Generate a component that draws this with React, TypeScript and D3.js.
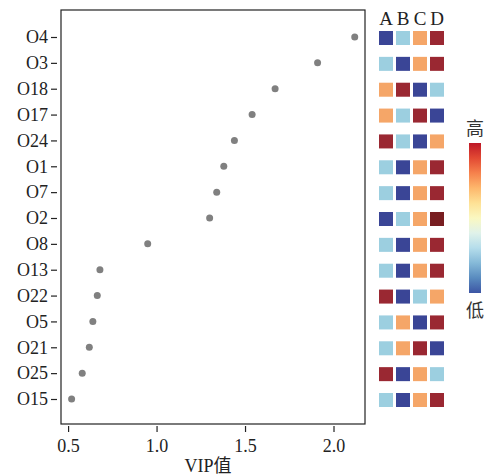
import React, { useEffect, useRef } from 'react';
import * as d3 from 'd3';

const compounds = ['O4', 'O3', 'O18', 'O17', 'O24', 'O1', 'O7', 'O2', 'O8', 'O13', 'O22', 'O5', 'O21', 'O25', 'O15'];
const vip = [2.12, 1.91, 1.67, 1.54, 1.44, 1.38, 1.34, 1.3, 0.95, 0.68, 0.665, 0.64, 0.62, 0.58, 0.52];
const groups = ['A', 'B', 'C', 'D'];
// relative level per group: 1 = lowest ... 4 = highest, 5 = extra high
const levels = [
  [1, 2, 3, 4],
  [2, 1, 3, 4],
  [3, 4, 1, 2],
  [3, 2, 4, 1],
  [4, 2, 1, 3],
  [2, 1, 3, 4],
  [2, 1, 3, 4],
  [1, 2, 3, 5],
  [2, 1, 3, 4],
  [2, 1, 3, 4],
  [4, 1, 2, 3],
  [2, 3, 1, 4],
  [2, 3, 4, 1],
  [4, 1, 3, 2],
  [2, 1, 3, 4],
];
const xTicks = [0.5, 1.0, 1.5, 2.0];

const FONT = 'Liberation Serif, Noto Sans CJK SC, serif';

const App = () => {
  const svgRef = useRef<SVGSVGElement>(null);

  useEffect(() => {
    const svg = d3.select(svgRef.current);
    svg.selectAll('*').remove();

    const margin = { top: 10, left: 61, right: 365, bottom: 424 };

    const x = d3.scaleLinear().domain([0.46, 2.178]).range([margin.left, margin.right]);
    const y = d3.scalePoint().domain(compounds).range([37, 399]);

    // frame
    svg
      .append('rect')
      .attr('x', margin.left)
      .attr('y', margin.top)
      .attr('width', margin.right - margin.left)
      .attr('height', margin.bottom - margin.top)
      .attr('fill', 'none')
      .attr('stroke', '#222')
      .attr('stroke-width', 1.2);

    // ticks sit a little off the frame
    const xAxis = svg
      .append('g')
      .attr('transform', `translate(0,${margin.bottom + 2})`)
      .call(d3.axisBottom(x).tickValues(xTicks).tickFormat(d3.format('.1f')).tickSize(6).tickSizeOuter(0));
    xAxis.select('.domain').remove();
    xAxis.selectAll('line').attr('stroke', '#222').attr('stroke-width', 1.2);
    xAxis
      .selectAll('text')
      .attr('font-family', FONT)
      .attr('font-size', 18)
      .attr('fill', '#222')
      .attr('y', 26)
      .attr('dy', 0);

    const yAxis = svg
      .append('g')
      .attr('transform', `translate(${margin.left - 4},0)`)
      .call(d3.axisLeft(y).tickSize(6).tickSizeOuter(0));
    yAxis.select('.domain').remove();
    yAxis.selectAll('line').attr('stroke', '#222').attr('stroke-width', 1.2);
    yAxis
      .selectAll('text')
      .attr('font-family', FONT)
      .attr('font-size', 18)
      .attr('fill', '#222')
      .attr('x', -9);

    svg
      .append('text')
      .attr('x', 208)
      .attr('y', 472)
      .attr('text-anchor', 'middle')
      .attr('font-family', FONT)
      .attr('font-size', 18)
      .attr('fill', '#222')
      .text('VIP值');

    svg
      .selectAll('circle.pt')
      .data(vip)
      .join('circle')
      .attr('class', 'pt')
      .attr('cx', (d) => x(d))
      .attr('cy', (d, i) => y(compounds[i]) as number)
      .attr('r', 3.5)
      .attr('fill', '#808080');

    // heatmap
    const colX = d3.scalePoint().domain(groups).range([386, 437]);
    const cell = 14;
    const color = d3
      .scaleOrdinal<number, string>()
      .domain([1, 2, 3, 4, 5])
      .range(['#3a4596', '#9ccfe0', '#f5a668', '#9a2832', '#781e21']);

    svg
      .selectAll('text.grp')
      .data(groups)
      .join('text')
      .attr('class', 'grp')
      .attr('x', (d) => colX(d) as number)
      .attr('y', 25)
      .attr('text-anchor', 'middle')
      .attr('font-family', FONT)
      .attr('font-size', 19)
      .attr('fill', '#222')
      .text((d) => d);

    const rows = svg
      .selectAll('g.row')
      .data(levels)
      .join('g')
      .attr('class', 'row')
      .attr('transform', (d, i) => `translate(0,${(y(compounds[i]) as number) + 1})`);

    rows
      .selectAll('rect')
      .data((d) => d)
      .join('rect')
      .attr('x', (d, j) => (colX(groups[j]) as number) - cell / 2)
      .attr('y', -cell / 2)
      .attr('width', cell)
      .attr('height', cell)
      .attr('fill', (d) => color(d));

    // colour bar
    const defs = svg.append('defs');
    const grad = defs
      .append('linearGradient')
      .attr('id', 'cbar')
      .attr('x1', 0)
      .attr('y1', 1)
      .attr('x2', 0)
      .attr('y2', 0);
    d3.range(0, 1.01, 0.1).forEach((t) => {
      grad
        .append('stop')
        .attr('offset', t)
        .attr('stop-color', d3.interpolateRdYlBu(1 - (0.05 + t * 0.9)));
    });

    svg
      .append('rect')
      .attr('x', 469)
      .attr('y', 143)
      .attr('width', 12)
      .attr('height', 150)
      .attr('fill', 'url(#cbar)');

    svg
      .append('text')
      .attr('x', 475)
      .attr('y', 135)
      .attr('text-anchor', 'middle')
      .attr('font-family', FONT)
      .attr('font-size', 18)
      .attr('fill', '#333')
      .text('高');

    svg
      .append('text')
      .attr('x', 475)
      .attr('y', 317)
      .attr('text-anchor', 'middle')
      .attr('font-family', FONT)
      .attr('font-size', 18)
      .attr('fill', '#333')
      .text('低');
  }, []);

  return (
    <svg
      ref={svgRef}
      width={488}
      height={475}
      style={{ position: 'absolute', left: 0, top: 0, background: '#fff' }}
    />
  );
};

export default App;
